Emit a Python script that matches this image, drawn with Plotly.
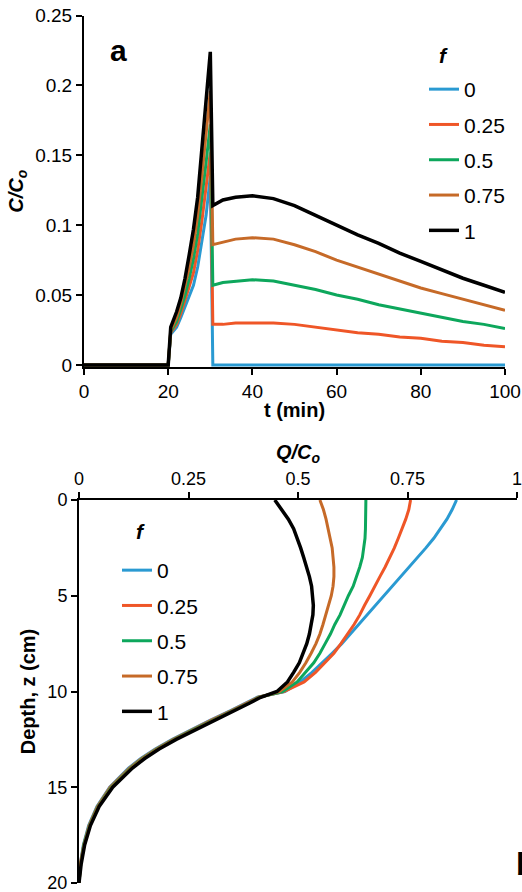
import plotly.graph_objects as go

# ---------------- Panel a: C/Co vs t ----------------
t_min = [0, 20, 20.6, 22, 23, 24, 25, 26, 27, 28, 29, 30, 30.6, 33, 36, 40, 45, 50,
         55, 60, 65, 70, 75, 80, 85, 90, 95, 100]
c_f0 = [0, 0, 0.022, 0.027, 0.034, 0.042, 0.050, 0.057, 0.070, 0.088, 0.107, 0.135, 0,
        0, 0, 0, 0, 0, 0, 0, 0, 0, 0, 0, 0, 0, 0, 0]
c_f025 = [0, 0, 0.023, 0.029, 0.037, 0.046, 0.056, 0.066, 0.082, 0.103, 0.127, 0.152, 0.029,
          0.029, 0.030, 0.030, 0.030, 0.029, 0.027, 0.025, 0.023, 0.022, 0.020, 0.019, 0.017,
          0.016, 0.014, 0.013]
c_f05 = [0, 0, 0.024, 0.031, 0.040, 0.050, 0.062, 0.076, 0.094, 0.118, 0.145, 0.172, 0.057,
         0.059, 0.060, 0.061, 0.060, 0.057, 0.054, 0.050, 0.047, 0.043, 0.040, 0.037, 0.034,
         0.031, 0.029, 0.026]
c_f075 = [0, 0, 0.025, 0.034, 0.044, 0.056, 0.070, 0.086, 0.107, 0.135, 0.166, 0.196, 0.086,
          0.088, 0.090, 0.091, 0.090, 0.086, 0.081, 0.075, 0.070, 0.065, 0.060, 0.055, 0.051,
          0.047, 0.043, 0.039]
c_f1 = [0, 0, 0.027, 0.038, 0.048, 0.062, 0.079, 0.097, 0.120, 0.155, 0.190, 0.224, 0.114,
        0.118, 0.120, 0.121, 0.119, 0.114, 0.107, 0.100, 0.093, 0.087, 0.080, 0.074, 0.068,
        0.062, 0.057, 0.052]

# ---------------- Panel b: Q/Co vs depth ----------------
depth_z = [0, 0.5, 1, 1.5, 2, 2.5, 3, 3.5, 4, 4.5, 5, 5.5, 6, 6.5, 7, 7.5, 8, 8.5, 9, 9.5,
           10, 10.3, 10.6, 11, 11.5, 12, 12.5, 13, 13.5, 14, 15, 16, 17, 18, 19, 20]
q_f0 = [0.862, 0.852, 0.840, 0.826, 0.810, 0.792, 0.773, 0.754, 0.735, 0.715, 0.697, 0.677,
        0.658, 0.640, 0.621, 0.600, 0.578, 0.556, 0.532, 0.505, 0.470,
        0.407, 0.382, 0.346, 0.299, 0.256, 0.213, 0.174, 0.141, 0.113, 0.070, 0.041, 0.022,
        0.010, 0.003, 0.0]
q_f025 = [0.757, 0.753, 0.746, 0.738, 0.729, 0.720, 0.710, 0.699, 0.687, 0.676, 0.664, 0.652,
          0.641, 0.628, 0.614, 0.598, 0.582, 0.562, 0.540, 0.514, 0.468,
          0.409, 0.384, 0.348, 0.301, 0.258, 0.215, 0.176, 0.143, 0.115, 0.071, 0.042, 0.023,
          0.011, 0.003, 0.0]
q_f05 = [0.655, 0.655, 0.655, 0.654, 0.653, 0.650, 0.647, 0.641, 0.634, 0.626, 0.615, 0.605,
         0.596, 0.584, 0.574, 0.562, 0.550, 0.536, 0.517, 0.498, 0.465,
         0.411, 0.386, 0.350, 0.303, 0.260, 0.217, 0.178, 0.145, 0.117, 0.073, 0.043, 0.024,
         0.011, 0.004, 0.0]
q_f075 = [0.550, 0.558, 0.564, 0.569, 0.574, 0.578, 0.580, 0.582, 0.582, 0.580, 0.576, 0.570,
          0.564, 0.557, 0.550, 0.541, 0.530, 0.518, 0.504, 0.487, 0.458,
          0.413, 0.388, 0.352, 0.305, 0.262, 0.219, 0.180, 0.147, 0.119, 0.075, 0.044, 0.025,
          0.012, 0.004, 0.0]
q_f1 = [0.447, 0.463, 0.478, 0.490, 0.499, 0.506, 0.513, 0.520, 0.526, 0.531, 0.533, 0.535,
        0.534, 0.531, 0.526, 0.520, 0.512, 0.503, 0.490, 0.476, 0.452,
        0.415, 0.390, 0.355, 0.308, 0.265, 0.222, 0.183, 0.150, 0.122, 0.077, 0.046, 0.026,
        0.013, 0.005, 0.0]

f_labels = ["0", "0.25", "0.5", "0.75", "1"]
colors = ["#2A9AD2", "#EF5627", "#0DA75C", "#C66A28", "#000000"]
top_series = [c_f0, c_f025, c_f05, c_f075, c_f1]
bot_series = [q_f0, q_f025, q_f05, q_f075, q_f1]

top_y_ticks = [0, 0.05, 0.1, 0.15, 0.2, 0.25]
top_y_ticktext = ["0", "0.05", "0.1", "0.15", "0.2", "0.25"]
top_x_ticks = [0, 20, 40, 60, 80, 100]
bot_x_ticks = [0, 0.25, 0.5, 0.75, 1]
bot_x_ticktext = ["0", "0.25", "0.5", "0.75", "1"]
bot_y_ticks = [0, 5, 10, 15, 20]

FONT = "Liberation Sans, Arial, Helvetica, sans-serif"
W, H = 522, 892

fig = go.Figure()
for i, (lab, col, ys) in enumerate(zip(f_labels, colors, top_series)):
    fig.add_trace(go.Scatter(
        x=t_min, y=ys, mode="lines", name=lab,
        line=dict(color=col, width=3.5 if i == 4 else 3),
        xaxis="x", yaxis="y", legend="legend", legendgroup="a" + lab,
    ))
for i, (lab, col, qs) in enumerate(zip(f_labels, colors, bot_series)):
    fig.add_trace(go.Scatter(
        x=qs, y=depth_z, mode="lines", name=lab,
        line=dict(color=col, width=3.5 if i == 4 else 3),
        xaxis="x2", yaxis="y2", legend="legend2", legendgroup="b" + lab,
    ))

axis_common = dict(
    showline=True, linecolor="black", linewidth=2,
    ticks="outside", ticklen=6, tickwidth=2, tickcolor="black",
    showgrid=False, zeroline=False, automargin=False,
    ticklabeloverflow="allow",
    tickfont=dict(family=FONT, size=19, color="black"),
)

fig.update_layout(
    width=W, height=H,
    margin=dict(l=0, r=0, t=0, b=0),
    paper_bgcolor="white", plot_bgcolor="white",
    font=dict(family=FONT, color="black"),
    xaxis=dict(
        **axis_common, domain=[84 / W, 505 / W], range=[0, 100],
        tickvals=top_x_ticks, anchor="y",
        title=dict(text="<b>t (min)</b>", font=dict(family=FONT, size=20), standoff=2),
    ),
    yaxis=dict(
        **axis_common, domain=[(H - 367) / H, (H - 15.5) / H], range=[-0.0015, 0.25],
        tickvals=top_y_ticks, ticktext=top_y_ticktext, anchor="x",
        title=dict(text="<b><i>C/C<sub>o</sub></i></b>", font=dict(family=FONT, size=20),
                   standoff=6),
    ),
    xaxis2=dict(
        **{**axis_common, "tickfont": dict(family=FONT, size=18, color="black")},
        domain=[79 / W, 517 / W], range=[0, 1], side="top",
        tickvals=bot_x_ticks, ticktext=bot_x_ticktext, anchor="y2",
        title=dict(text="<b><i>Q/C<sub>o</sub></i></b>", font=dict(family=FONT, size=20),
                   standoff=4),
    ),
    yaxis2=dict(
        **{**axis_common, "tickfont": dict(family=FONT, size=18, color="black")},
        domain=[(H - 883) / H, (H - 500) / H], range=[20, 0],
        tickvals=bot_y_ticks, anchor="x2",
        title=dict(text="<b>Depth, z (cm)</b>", font=dict(family=FONT, size=20),
                   standoff=6),
    ),
    legend=dict(
        x=424 / W, y=(H - 69) / H, xanchor="left", yanchor="top",
        bgcolor="rgba(0,0,0,0)", font=dict(family=FONT, size=21, color="black"),
        tracegroupgap=5, itemwidth=30,
    ),
    legend2=dict(
        x=117 / W, y=(H - 550) / H, xanchor="left", yanchor="top",
        bgcolor="rgba(0,0,0,0)", font=dict(family=FONT, size=21, color="black"),
        tracegroupgap=5, itemwidth=30,
    ),
    annotations=[
        dict(text="<b>a</b>", x=118 / W, y=(H - 50) / H, xref="paper", yref="paper",
             xanchor="center", yanchor="middle", showarrow=False,
             font=dict(family=FONT, size=30, color="black")),
        dict(text="<b><i>f</i></b>", x=443 / W, y=(H - 55) / H, xref="paper", yref="paper",
             xanchor="center", yanchor="middle", showarrow=False,
             font=dict(family=FONT, size=21, color="black")),
        dict(text="<b><i>f</i></b>", x=140 / W, y=(H - 531) / H, xref="paper", yref="paper",
             xanchor="center", yanchor="middle", showarrow=False,
             font=dict(family=FONT, size=21, color="black")),
        dict(text="<b>b</b>", x=514 / W, y=(H - 864) / H, xref="paper", yref="paper",
             xanchor="left", yanchor="middle", showarrow=False,
             font=dict(family=FONT, size=32, color="black")),
    ],
)

fig.write_html("out.html", config={"displayModeBar": False},
               post_script="document.body.style.margin='0px';")
